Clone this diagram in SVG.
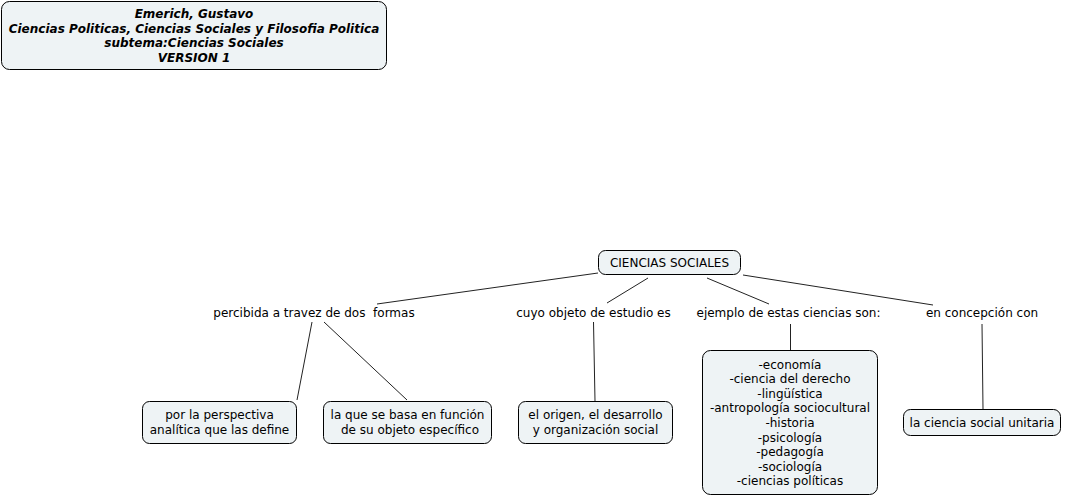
<svg xmlns="http://www.w3.org/2000/svg" width="1065" height="497" viewBox="0 0 1065 497">
<style>
.box{fill:#eef3f5;stroke:#000;stroke-width:1}
.t{font-family:"DejaVu Sans","Verdana",sans-serif;font-size:12px;fill:#000;text-anchor:middle}
.h{font-weight:bold;font-style:italic}
.c line{stroke:#222;stroke-width:1}
</style>
<rect width="1065" height="497" fill="#fff"/>
<g id="connectors" class="c">
<line x1="598" y1="273" x2="377" y2="304"/>
<line x1="648" y1="278" x2="607" y2="303"/>
<line x1="707" y1="278" x2="769" y2="304"/>
<line x1="743" y1="275" x2="933" y2="305"/>
<line x1="312" y1="322" x2="297" y2="400"/>
<line x1="324" y1="322" x2="407" y2="400"/>
<line x1="593.5" y1="322" x2="595" y2="401"/>
<line x1="790.5" y1="324" x2="790.5" y2="350"/>
<line x1="982" y1="324" x2="983" y2="409"/>
</g>
<g id="header">
<rect class="box" x="1.5" y="1.5" width="385" height="68" rx="8"/>
<text class="t h" x="194" y="18">Emerich, Gustavo</text>
<text class="t h" x="194" y="32.6">Ciencias Politicas, Ciencias Sociales y Filosofia Politica</text>
<text class="t h" x="194" y="47.2">subtema:Ciencias Sociales</text>
<text class="t h" x="194" y="61.8">VERSION 1</text>
</g>
<g id="ciencias-sociales">
<rect class="box" x="598.5" y="250.5" width="142" height="24" rx="7"/>
<text class="t" x="669.5" y="267">CIENCIAS SOCIALES</text>
</g>
<g id="label-percibida">
<text class="t" x="314" y="316.5" xml:space="preserve">percibida a travez de dos  formas</text>
</g>
<g id="label-cuyo">
<text class="t" x="593.5" y="316.5">cuyo objeto de estudio es</text>
</g>
<g id="label-ejemplo">
<text class="t" x="788.5" y="316.5">ejemplo de estas ciencias son:</text>
</g>
<g id="label-concepcion">
<text class="t" x="982" y="316.5">en concepción con</text>
</g>
<g id="perspectiva">
<rect class="box" x="142.5" y="401.5" width="154" height="42" rx="7"/>
<text class="t" x="219.5" y="418.5">por la perspectiva</text>
<text class="t" x="219.5" y="433.5">analítica que las define</text>
</g>
<g id="funcion">
<rect class="box" x="323.5" y="401.5" width="168" height="42" rx="7"/>
<text class="t" x="407.5" y="418.5">la que se basa en función</text>
<text class="t" x="410" y="433.5">de su objeto específico</text>
</g>
<g id="origen">
<rect class="box" x="518.5" y="401.5" width="154" height="42" rx="7"/>
<text class="t" x="595.5" y="418.5">el origen, el desarrollo</text>
<text class="t" x="595.5" y="433.5">y organización social</text>
</g>
<g id="lista">
<rect class="box" x="702.5" y="350.5" width="175" height="144" rx="8"/>
<text class="t" x="790" y="368.5">-economía</text>
<text class="t" x="790" y="383.1">-ciencia del derecho</text>
<text class="t" x="790" y="397.7">-lingüística</text>
<text class="t" x="790" y="412.3">-antropología sociocultural</text>
<text class="t" x="790" y="426.9">-historia</text>
<text class="t" x="790" y="441.5">-psicología</text>
<text class="t" x="790" y="456.1">-pedagogía</text>
<text class="t" x="790" y="470.7">-sociología</text>
<text class="t" x="790" y="485.3">-ciencias políticas</text>
</g>
<g id="unitaria">
<rect class="box" x="903.5" y="409.5" width="157" height="26" rx="7"/>
<text class="t" x="982" y="427">la ciencia social unitaria</text>
</g>
</svg>
